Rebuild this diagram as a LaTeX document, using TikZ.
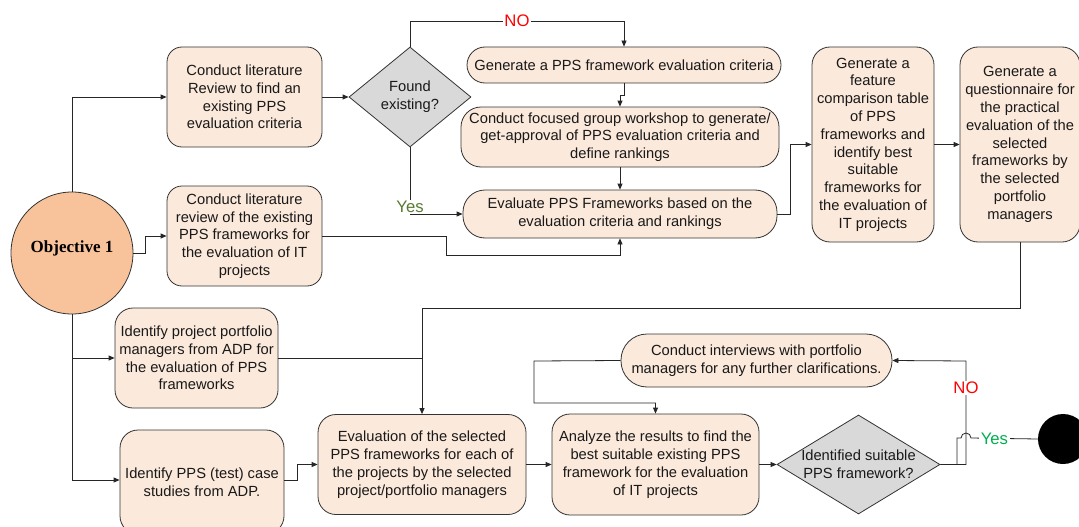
\documentclass[tikz,border=0pt]{standalone}
\usepackage{fontspec}
\setmainfont{Liberation Sans}
\newfontfamily\objfont{Liberation Serif}
\usetikzlibrary{shapes.geometric,arrows.meta}
\definecolor{boxfill}{HTML}{FBE9DB}
\definecolor{decfill}{HTML}{D9D9D9}
\definecolor{objfill}{HTML}{F8C39B}
\definecolor{yesolive}{HTML}{5A7A34}
\definecolor{yesgreen}{HTML}{00B050}
\definecolor{nored}{HTML}{FF0000}
\newcommand\boxfont{\fontsize{14.7}{17.8}\selectfont}
\newcommand\labelfont{\fontsize{16.7}{18}\selectfont}

\begin{document}
\begin{tikzpicture}[x=1pt,y=-1pt,
  stepbox/.style={draw=black!80, fill=boxfill, line width=0.8pt, rounded corners=15pt,
    align=center, font=\boxfont, text=black!90, inner sep=0pt},
  decision/.style={diamond, draw=black!80, fill=decfill, line width=0.8pt,
    align=center, font=\boxfont, text=black!90, inner sep=0pt},
  conn/.style={draw=black!85, line width=0.8pt, -{Triangle[length=6pt,width=5pt]}},
  plain/.style={draw=black!85, line width=0.8pt},
  lab/.style={fill=white, inner sep=1.5pt, font=\labelfont},
]
\fill[white] (0,0) rectangle (1079,527);
\useasboundingbox (0,0) rectangle (1079,527);

% start and end markers
\node[circle, draw=black!80, fill=objfill, line width=0.8pt, minimum size=122pt, inner sep=0pt,
  font=\objfont\bfseries\fontsize{17}{20}\selectfont] (obj) at (72,253) {\raisebox{13pt}{Objective 1}};
\node[circle, fill=black, minimum size=50pt, inner sep=0pt] (end) at (1063,439) {};

% upper branch
\node[stepbox, minimum width=155pt, minimum height=100pt] (A) at (244.5,97)
  {Conduct literature\\Review to find an\\existing PPS\\evaluation criteria};
\node[stepbox, minimum width=155pt, minimum height=100pt] (B) at (244.5,236)
  {Conduct literature\\review of the existing\\PPS frameworks for\\the evaluation of IT\\projects};
\node[decision, minimum width=122pt, minimum height=100pt] (found) at (410,97)
  {Found\\existing?};
\node[stepbox, rounded corners=18pt, minimum width=314pt, minimum height=36pt] (C) at (624,65)
  {Generate a PPS framework evaluation criteria};
\node[stepbox, rounded corners=20pt, minimum width=318pt, minimum height=60pt] (D) at (620,137)
  {Conduct focused group workshop to generate/\\get-approval of PPS evaluation criteria and\\define rankings};
\node[stepbox, rounded corners=22pt, minimum width=314pt, minimum height=48pt] (E) at (620,214)
  {Evaluate PPS Frameworks based on the\\evaluation criteria and rankings};
\node[stepbox, rounded corners=18pt, minimum width=122pt, minimum height=195pt] (F) at (873,144.5)
  {Generate a\\feature\\comparison table\\of PPS\\frameworks and\\identify best\\suitable\\frameworks for\\the evaluation of\\IT projects};
\node[stepbox, rounded corners=18pt, minimum width=120pt, minimum height=195pt] (G) at (1020,144.5)
  {Generate a\\questionnaire for\\the practical\\evaluation of the\\selected\\frameworks by\\the selected\\portfolio\\managers};

% lower branch
\node[stepbox, rounded corners=18pt, minimum width=163pt, minimum height=100pt] (H) at (196.5,358)
  {Identify project portfolio\\managers from ADP for\\the evaluation of PPS\\frameworks};
\node[stepbox, rounded corners=18pt, minimum width=164pt, minimum height=104pt] (J) at (202,482)
  {Identify PPS (test) case\\studies from ADP.};
\node[stepbox, rounded corners=18pt, minimum width=208pt, minimum height=100pt] (I) at (422,464.5)
  {Evaluation of the selected\\PPS frameworks for each of\\the projects by the selected\\project/portfolio managers};
\node[stepbox, rounded corners=18pt, minimum width=207pt, minimum height=101pt] (L) at (655.5,464.5)
  {Analyze the results to find the\\best suitable existing PPS\\framework for the evaluation\\of IT projects};
\node[decision, inner sep=-14pt, minimum width=163pt, minimum height=99pt] (M) at (858.5,464.5)
  {Identified suitable\\PPS framework?};
\node[stepbox, rounded corners=26pt, minimum width=271pt, minimum height=53pt] (K) at (756.5,360.5)
  {Conduct interviews with portfolio\\managers for any further clarifications.};

% connectors from the objective
\draw[conn] (obj.north) |- (A.west);
\draw[conn] (obj.east) -- ++(12,0) |- (B.west);
\draw[conn] (obj.south) |- (H.west);
\draw[conn] (obj.south) |- ([yshift=2pt]J.west);

% literature criteria decision
\draw[conn] (A) -- (found);
\draw[conn] (found.north) -- (410,21) -- node[lab, text=nored]{NO} (624,21) -- (C.north);
\draw[conn] (found.south) |- node[lab, text=yesolive, pos=0.5, yshift=7pt]{Yes} (E.west);
\draw[conn] (C.south) -- ++(0,12) -| (D.north);
\draw[conn] (D) -- (E);
\draw[conn] (B.east) -- (446,236) -- (446,255) -| (E.south);
\draw[conn] (E.east) -- ++(13,0) |- (F.west);
\draw[conn] (F) -- (G);

% evaluation loop
\draw[conn] (G.south) |- (422,308) -- (I.north);
\draw[plain] (H.east) -- (I.north |- H.east);
\draw[conn] ([yshift=2pt]J.east) -- ++(13,0) |- (I.west);
\draw[conn] (I) -- (L);
\draw[conn] (L) -- (M);
\draw[conn] (M.east) -- (966,464.5) -- node[lab, text=nored, pos=0.74]{NO} (966,361) -- (K.east);
\draw[conn] (K.west) -- (534,361) -- (534,403) -| (L.north);
\draw[plain] (M.east) -- (957,464.5) -- (957,438) -- (961,438)
  arc[start angle=180, end angle=0, radius=5pt]
  -- node[lab, text=yesgreen, pos=0.35]{Yes} (end.west);
\end{tikzpicture}
\end{document}
